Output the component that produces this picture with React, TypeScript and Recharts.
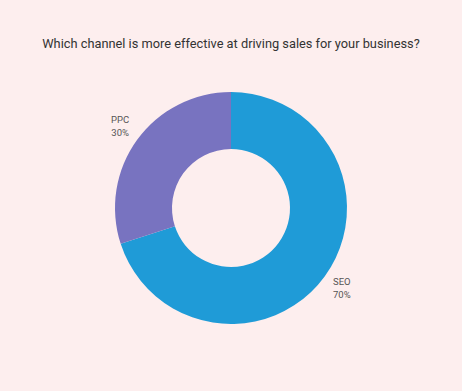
import { PieChart, Pie, Cell } from "recharts";

const channels = ["SEO", "PPC"];
const shares = [70, 30];
const colors = ["#1f9bd7", "#7873c0"];

const data = channels.map((name, i) => ({ name, value: shares[i] }));

const RAD = Math.PI / 180;

function renderLabel(props: any) {
  const { cx, cy, midAngle, outerRadius, index } = props;
  const r = outerRadius + 21;
  const x = cx + r * Math.cos(-midAngle * RAD);
  const y = cy + r * Math.sin(-midAngle * RAD);
  return (
    <text
      x={x}
      y={y}
      fill="#555"
      fontSize={9.5}
      fontFamily="Roboto, sans-serif"
      textAnchor="middle"
    >
      <tspan x={x} dy={-4}>
        {data[index].name}
      </tspan>
      <tspan x={x} dy={13}>
        {data[index].value}%
      </tspan>
    </text>
  );
}

export default function App() {
  return (
    <div
      style={{
        position: "fixed",
        top: 0,
        left: 0,
        width: 462,
        height: 391,
        background: "#fdeeee",
        fontFamily: "Roboto, sans-serif",
      }}
    >
      <div
        style={{
          position: "absolute",
          top: 36,
          left: 0,
          width: 462,
          textAlign: "center",
          fontSize: 12.8,
          color: "#333",
        }}
      >
        Which channel is more effective at driving sales for your business?
      </div>
      <PieChart
        width={462}
        height={391}
        margin={{ top: 0, right: 0, bottom: 0, left: 0 }}
        style={{ position: "absolute", top: 0, left: 0 }}
      >
        <Pie
          data={data}
          dataKey="value"
          nameKey="name"
          cx={231}
          cy={208}
          innerRadius={59}
          outerRadius={116}
          startAngle={90}
          endAngle={-270}
          stroke="none"
          label={renderLabel}
          labelLine={false}
          isAnimationActive={false}
        >
          {data.map((d, i) => (
            <Cell key={d.name} fill={colors[i]} />
          ))}
        </Pie>
      </PieChart>
    </div>
  );
}
